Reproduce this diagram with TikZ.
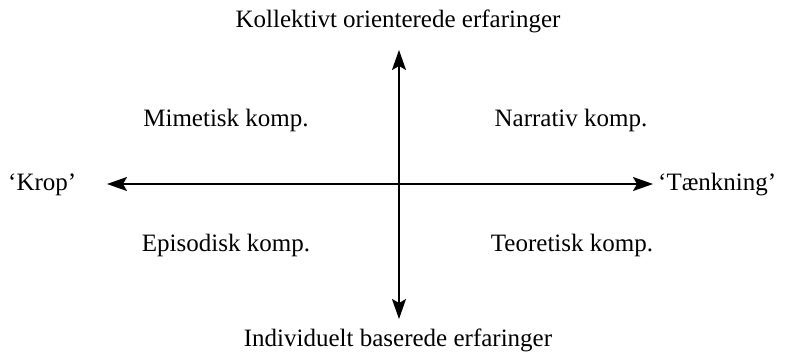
\documentclass[tikz,border=0pt]{standalone}
\usepackage{fontspec}
\setmainfont{Liberation Serif}
\usetikzlibrary{arrows.meta}
\begin{document}
\begin{tikzpicture}[x=1pt,y=-1pt,
  lbl/.style={inner sep=0pt,font=\fontsize{25}{30}\selectfont},
  axis/.style={line width=1.8pt,-{Stealth[length=20pt,width=14pt,inset=4pt]}}]
\useasboundingbox (0,0) rectangle (788,357);
\coordinate (c) at (399,184);
\coordinate (top) at (399,50);
\coordinate (bot) at (399,319);
\coordinate (lft) at (107,184);
\coordinate (rgt) at (653,184);
\draw[axis] (c) -- (top);
\draw[axis] (c) -- (bot);
\draw[axis] (c) -- (lft);
\draw[axis] (c) -- (rgt);
\node[lbl] (t) at (398,21) {Kollektivt orienterede erfaringer};
\node[lbl] (b) at (398,340) {Individuelt baserede erfaringer};
\node[lbl,anchor=west] (k) at (8,185) {‘Krop’};
\node[lbl,anchor=west] (tk) at (658,185) {‘Tænkning’};
\node[lbl] (m) at (226,120) {Mimetisk komp.};
\node[lbl] (n) at (571,120) {Narrativ komp.};
\node[lbl] (e) at (226,245) {Episodisk komp.};
\node[lbl] (te) at (572,245) {Teoretisk komp.};
\end{tikzpicture}
\end{document}
